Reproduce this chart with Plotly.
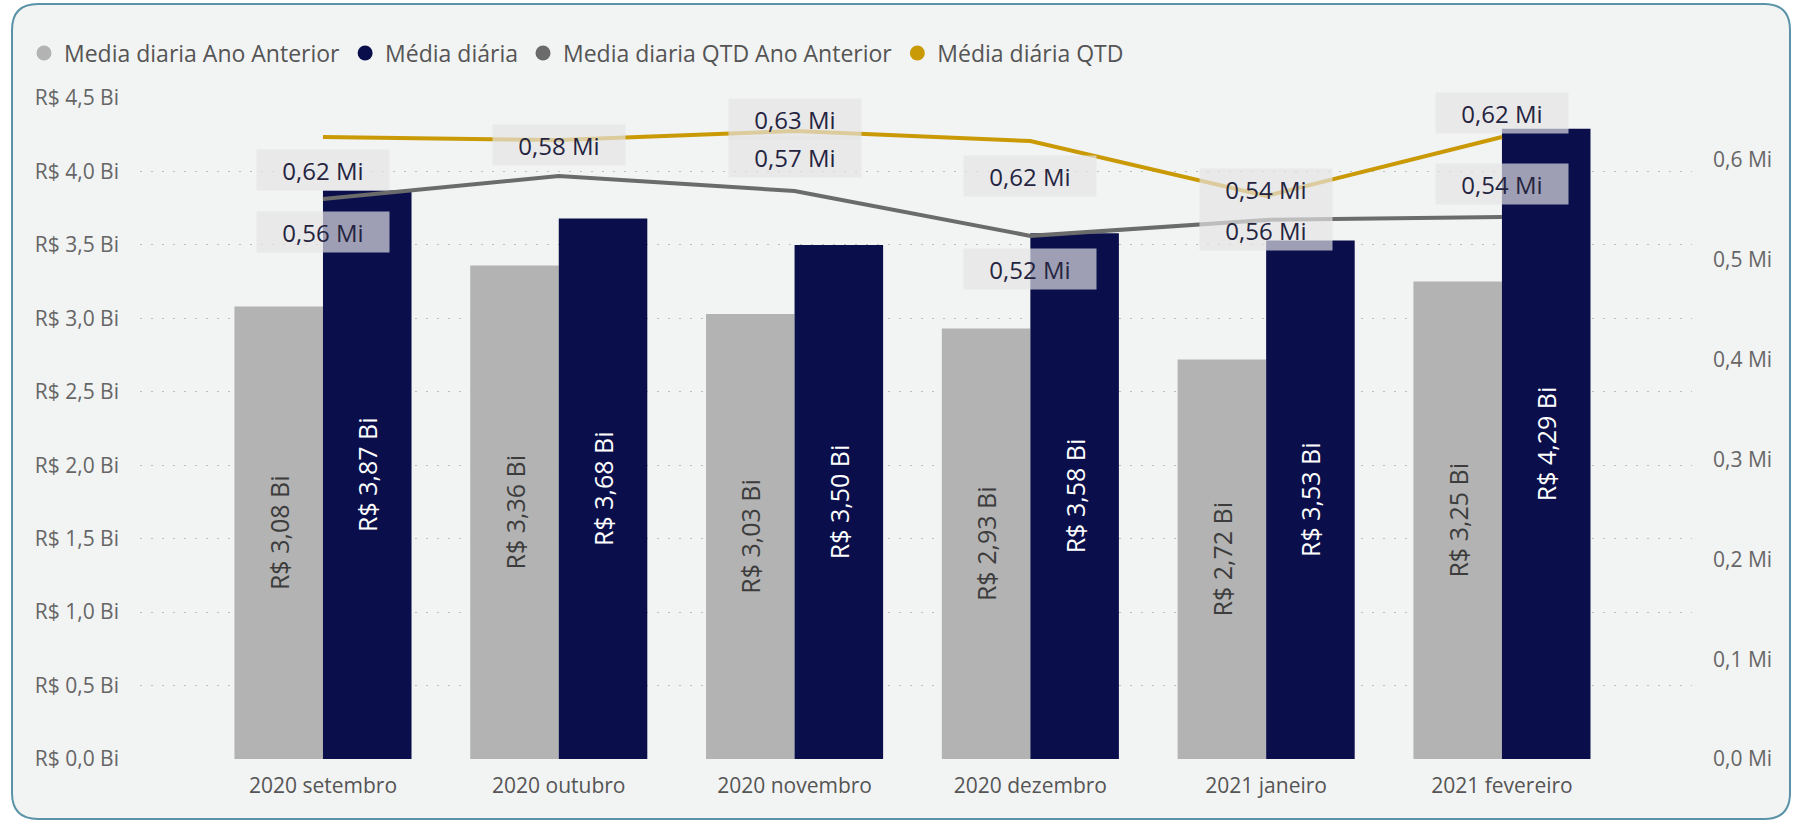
import plotly.graph_objects as go

# ---------------- data ----------------
months = ["2020 setembro", "2020 outubro", "2020 novembro",
          "2020 dezembro", "2021 janeiro", "2021 fevereiro"]
media_diaria_ano_anterior = [3.08, 3.36, 3.03, 2.93, 2.72, 3.25]   # R$ Bi
media_diaria = [3.87, 3.68, 3.50, 3.58, 3.53, 4.29]                # R$ Bi
media_qtd_ano_anterior = [0.561, 0.584, 0.569, 0.524, 0.540, 0.543]  # Mi
media_qtd = [0.623, 0.620, 0.629, 0.619, 0.564, 0.623]               # Mi

# label offsets (px, + = up); None = label hidden
shift_qtd = [-33, None, 12, -35, -34, 24]
shift_qtd_ant = [-33, 31, 34, -33, 31, 33]

# ---------------- style ----------------
W, H = 1802, 822
ML, MR, MT, MB = 140, 110, 98, 63
FONT = "Segoe UI, Open Sans, sans-serif"
CARD = "#F2F3F3"
C_GREY_BAR = "#B3B3B3"
C_NAVY = "#0A0F4B"
C_GREY_LINE = "#6B6B6B"
C_GOLD = "#C99A06"
TICK_COLOR = "#666666"

pw, ph = W - ML - MR, H - MT - MB


def px2paper(x, y):
    return (x - ML) / pw, (H - MB - y) / ph


fig = go.Figure()

fig.add_trace(go.Bar(
    x=months, y=media_diaria_ano_anterior, name="Media diaria Ano Anterior",
    marker=dict(color=C_GREY_BAR, line=dict(width=0)),
    texttemplate="R$ %{y:.2f} Bi", textposition="inside",
    insidetextanchor="middle", textangle=-90,
    textfont=dict(family=FONT, size=25, color="#3C3C3C"),
    showlegend=False, offsetgroup="a"))
fig.add_trace(go.Bar(
    x=months, y=media_diaria, name="Média diária",
    marker=dict(color=C_NAVY, line=dict(width=0)),
    texttemplate="R$ %{y:.2f} Bi", textposition="inside",
    insidetextanchor="middle", textangle=-90,
    textfont=dict(family=FONT, size=25, color="#FFFFFF"),
    showlegend=False, offsetgroup="b"))
fig.add_trace(go.Scatter(
    x=months, y=media_qtd_ano_anterior, yaxis="y2", mode="lines",
    line=dict(color=C_GREY_LINE, width=4), name="Media diaria QTD Ano Anterior",
    showlegend=False, cliponaxis=False))
fig.add_trace(go.Scatter(
    x=months, y=media_qtd, yaxis="y2", mode="lines",
    line=dict(color=C_GOLD, width=4), name="Média diária QTD",
    showlegend=False, cliponaxis=False))

# legend entries (circle markers)
for nm, col in [("Media diaria Ano Anterior", C_GREY_BAR),
                ("Média diária", C_NAVY),
                ("Media diaria QTD Ano Anterior", C_GREY_LINE),
                ("Média diária QTD", C_GOLD)]:
    fig.add_trace(go.Scatter(x=[None], y=[None], mode="markers", name=nm,
                             marker=dict(color=col, size=15, symbol="circle"),
                             showlegend=True))

# line data labels
def fmt(v):
    return f"{v:.2f}".replace(".", ",") + " Mi"

anns = []
for vals, shifts in [(media_qtd_ano_anterior, shift_qtd_ant), (media_qtd, shift_qtd)]:
    for m, v, s in zip(months, vals, shifts):
        if s is None:
            continue
        anns.append(dict(x=m, y=v, xref="x", yref="y2", yshift=s, text=fmt(v),
                         showarrow=False, font=dict(family=FONT, size=24, color="#252440"),
                         bgcolor="rgba(228,229,230,0.68)", width=124, height=32,
                         borderpad=4, align="center"))

# card border (rounded rect) in paper coords
x0, y0, x1, y1, r = 12, 4, 1790, 819, 26
def P(x, y):
    a, b = px2paper(x, y)
    return f"{a:.5f},{b:.5f}"
path = (f"M {P(x0 + r, y0)} L {P(x1 - r, y0)} Q {P(x1, y0)} {P(x1, y0 + r)} "
        f"L {P(x1, y1 - r)} Q {P(x1, y1)} {P(x1 - r, y1)} "
        f"L {P(x0 + r, y1)} Q {P(x0, y1)} {P(x0, y1 - r)} "
        f"L {P(x0, y0 + r)} Q {P(x0, y0)} {P(x0 + r, y0)} Z")

fig.update_layout(
    width=W, height=H,
    margin=dict(l=ML, r=MR, t=MT, b=MB, pad=0),
    paper_bgcolor="#FFFFFF", plot_bgcolor=CARD,
    separators=",.",
    barmode="group", bargap=0.249, bargroupgap=0,
    font=dict(family=FONT, color=TICK_COLOR),
    shapes=[dict(type="path", xref="paper", yref="paper", path=path,
                 fillcolor=CARD, line=dict(color="#5A93A8", width=2), layer="below")],
    annotations=anns,
    legend=dict(orientation="h", x=px2paper(24, 0)[0], xanchor="left",
                y=px2paper(0, 53)[1], yanchor="middle",
                font=dict(family=FONT, size=23, color="#555555"),
                bgcolor="rgba(0,0,0,0)", itemwidth=30, tracegroupgap=0,
                traceorder="normal"),
    xaxis=dict(type="category", range=[-0.776, 5.806], showgrid=False,
               zeroline=False, showline=False, ticks="",
               tickfont=dict(family=FONT, size=21, color="#555555"),
               ticklabelstandoff=12),
    yaxis=dict(range=[0, 4.5], dtick=0.5, tickformat=".1f",
               tickprefix="R$ ", ticksuffix=" Bi", showgrid=True,
               gridcolor="#BEBEBE", gridwidth=1, griddash="2px,9px",
               zeroline=False, showline=False, ticks="",
               tickfont=dict(family=FONT, size=21, color=TICK_COLOR),
               ticklabelstandoff=20),
    yaxis2=dict(range=[0, 0.6621], dtick=0.1, tickformat=".1f", ticksuffix=" Mi",
                overlaying="y", side="right", showgrid=False, zeroline=False,
                showline=False, ticks="",
                tickfont=dict(family=FONT, size=21, color=TICK_COLOR),
                ticklabelstandoff=20),
)

fig.write_html("out.html", config={"displayModeBar": False},
               post_script="document.body.style.margin='0px';document.body.style.overflow='hidden';")
